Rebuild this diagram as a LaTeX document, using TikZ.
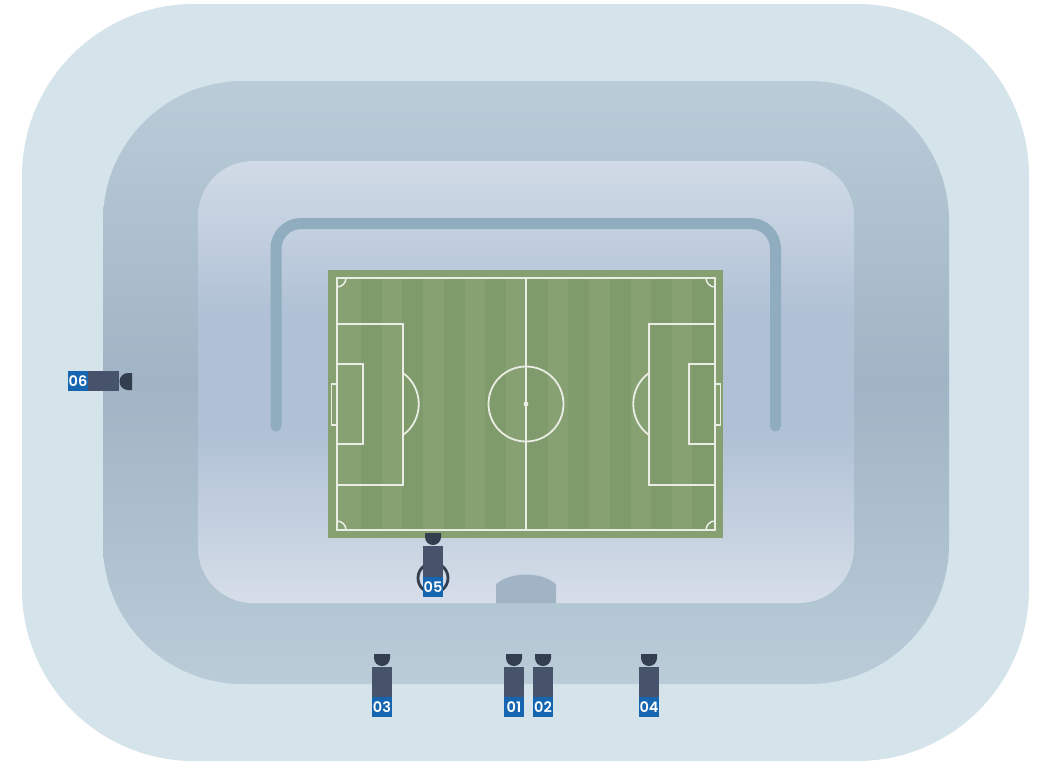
\documentclass[tikz,border=0pt]{standalone}
\usepackage{fontspec}
\setmainfont{Poppins}[BoldFont={Poppins SemiBold}]
\definecolor{outerc}{HTML}{D5E3EA}
\definecolor{midedge}{HTML}{BACCD8}
\definecolor{midmid}{HTML}{A0B4C5}
\definecolor{inntop}{HTML}{D1DBE7}
\definecolor{innmid}{HTML}{B0C1D5}
\definecolor{innbot}{HTML}{D6DEE9}
\definecolor{tube}{HTML}{8FADBF}
\definecolor{fieldc}{HTML}{87A071}
\definecolor{stripea}{HTML}{88A173}
\definecolor{stripeb}{HTML}{809B6B}
\definecolor{linec}{HTML}{E9EDE3}
\definecolor{headc}{HTML}{333F4F}
\definecolor{bodyc}{HTML}{46536B}
\definecolor{tagc}{HTML}{1565B0}
\definecolor{archedge}{HTML}{C6D4E1}
\pgfdeclareverticalshading{innershade}{100bp}{color(0bp)=(innbot); color(25bp)=(innbot); color(44.2bp)=(innmid); color(57.4bp)=(innmid); color(75bp)=(inntop); color(100bp)=(inntop)}
\tikzset{
  pitchline/.style={draw=linec,line width=1.8pt},
  bodybox/.style={fill=bodyc,draw=none},
  tagbox/.style={fill=tagc,draw=none,text=white,inner sep=0pt,minimum width=20pt,minimum height=20pt,font=\bfseries\fontsize{14.5}{15}\selectfont},
  headshape/.style={fill=headc,draw=none}
}
\newcommand{\camup}[2]{% x, label
  \fill[headshape] (#1-8,-654) -- (#1+8,-654) -- (#1+8,-658) arc[start angle=0,end angle=-180,radius=8] -- cycle;
  \fill[bodybox] (#1-10,-667) rectangle (#1+10,-697);
  \node[tagbox] (tag#2) at (#1,-707) {#2};
}
\begin{document}
\begin{tikzpicture}[x=1pt,y=1pt]
\useasboundingbox (0,0) rectangle (1037,-763);
% bowls
\fill[outerc,rounded corners=172pt] (22,-4) rectangle (1029,-761);
\shade[top color=midedge,bottom color=midedge,middle color=midmid]
  (243,-81) -- (809,-81) arc[start angle=90,end angle=0,radius=140] -- (949,-544)
  arc[start angle=0,end angle=-90,radius=140] -- (243,-684)
  arc[start angle=270,end angle=180,radius=140] -- (103,-221)
  arc[start angle=180,end angle=90,radius=140] -- cycle;
\shade[shading=innershade,rounded corners=55pt] (198,-161) rectangle (854,-603);
% tunnel arch
\fill[midmid] (496,-603) -- (496,-584) .. controls (510,-571) and (542,-571) .. (556,-584) -- (556,-603) -- cycle;
\draw[archedge,line width=0.6pt] (496,-584) .. controls (510,-571) and (542,-571) .. (556,-584);
% railing
\draw[tube,line width=11pt,line cap=round,rounded corners=25pt] (276,-426) -- (276,-223.5) -- (775.5,-223.5) -- (775.5,-426);
% pitch
\fill[fieldc] (328,-270) rectangle (723,-538);
\foreach \a/\b in {337/361,382/402,423/444,465/485,506/526,548/568,589/610,631/651,672/692}
  \fill[stripea] (\a,-278) rectangle (\b,-530);
\foreach \a/\b in {361/382,402/423,444/465,485/506,526/548,568/589,610/631,651/672,692/715}
  \fill[stripeb] (\a,-278) rectangle (\b,-530);
% markings
\draw[pitchline] (337,-278) rectangle (715,-530);
\draw[pitchline] (526,-278) -- (526,-530);
\draw[pitchline] (526,-404) circle[radius=37.5];
\fill[linec] (526,-404) circle[radius=2.4];
\draw[pitchline] (337,-324) rectangle (403,-485);
\draw[pitchline] (337,-364) rectangle (363,-444);
\draw[pitchline] (337,-384) -- (331.5,-384) -- (331.5,-425) -- (337,-425);
\draw[pitchline] (403,-373) .. controls (424,-388) and (424,-420) .. (403,-435);
\draw[pitchline] (715,-324) -- (649,-324) -- (649,-485) -- (715,-485);
\draw[pitchline] (715,-364) -- (689,-364) -- (689,-444) -- (715,-444);
\draw[pitchline] (715,-384) -- (720.5,-384) -- (720.5,-425) -- (715,-425);
\draw[pitchline] (649,-373) .. controls (628,-388) and (628,-420) .. (649,-435);
% corner arcs
\draw[pitchline,line width=1.5pt] (346,-278) arc[start angle=0,end angle=-90,radius=9];
\draw[pitchline,line width=1.5pt] (706,-278) arc[start angle=180,end angle=270,radius=9];
\draw[pitchline,line width=1.5pt] (346,-530) arc[start angle=0,end angle=90,radius=9];
\draw[pitchline,line width=1.5pt] (706,-530) arc[start angle=180,end angle=90,radius=9];
% cameras facing up
\camup{382}{03}
\camup{514}{01}
\camup{543}{02}
\camup{649}{04}
% camera 05
\draw[headc,line width=2.8pt] (433,-578) circle[radius=15];
\fill[headshape] (425,-533) -- (441,-533) -- (441,-537) arc[start angle=0,end angle=-180,radius=8] -- cycle;
\fill[bodybox] (423,-546) rectangle (443,-577);
\node[tagbox] (tag05) at (433,-587) {05};
% camera 06
\fill[headshape] (132,-373) -- (132,-390) -- (128,-390) arc[start angle=270,end angle=90,radius=8.5] -- cycle;
\fill[bodybox] (88,-371) rectangle (119,-391);
\node[tagbox] (tag06) at (78,-381) {06};
\end{tikzpicture}
\end{document}
